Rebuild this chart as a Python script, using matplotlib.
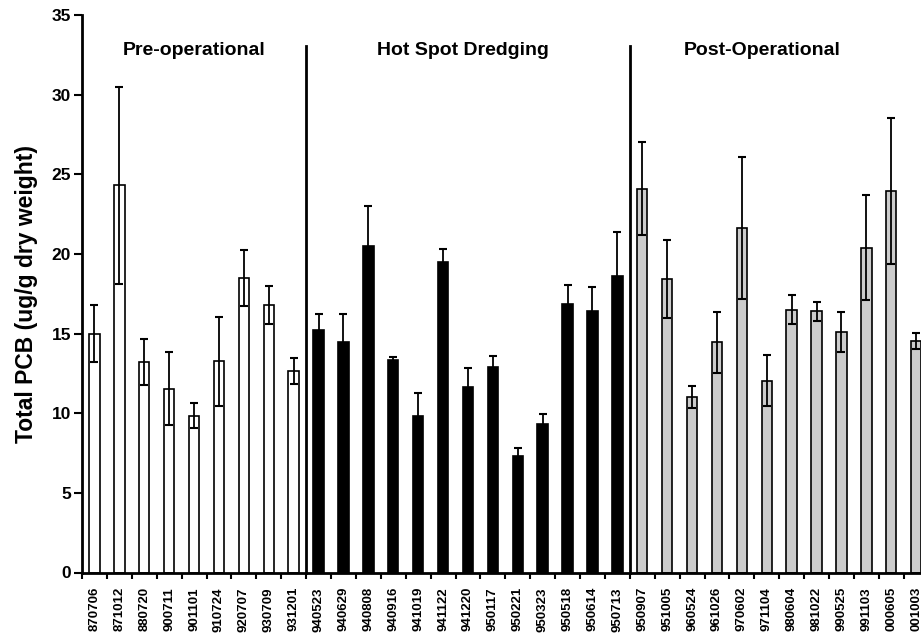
import matplotlib
matplotlib.use("Agg")
import matplotlib.pyplot as plt
import numpy as np

plt.rcParams['font.family'] = ['Liberation Sans', 'DejaVu Sans']

pre_labels = ["870706", "871012", "880720", "900711", "901101", "910724", "920707", "930709", "931201"]
pre_vals = [15.0, 24.3, 13.2, 11.55, 9.85, 13.25, 18.5, 16.8, 12.65]
pre_err = [1.8, 6.2, 1.45, 2.3, 0.8, 2.8, 1.75, 1.2, 0.8]

hot_labels = ["940523", "940629", "940808", "940916", "941019", "941122", "941220",
              "950117", "950221", "950323", "950518", "950614", "950713"]
hot_vals = [15.25, 14.5, 20.5, 13.35, 9.8, 19.5, 11.65, 12.9, 7.3, 9.35, 16.85, 16.4, 18.6]
hot_err = [0.95, 1.7, 2.5, 0.2, 1.45, 0.8, 1.2, 0.7, 0.5, 0.6, 1.2, 1.5, 2.75]

post_labels = ["950907", "951005", "960524", "961026", "970602", "971104", "980604",
               "981022", "990525", "991103", "000605", "001003"]
post_vals = [24.1, 18.4, 11.0, 14.45, 21.65, 12.05, 16.5, 16.4, 15.1, 20.4, 23.95, 14.55]
post_err = [2.9, 2.45, 0.7, 1.9, 4.45, 1.6, 0.9, 0.6, 1.25, 3.3, 4.6, 0.5]

group_names = ["Pre-operational", "Hot Spot Dredging", "Post-Operational"]

fig = plt.figure(figsize=(9.21, 6.34), dpi=100)
ax = fig.add_axes([82/921, 61.5/634, (34*24.9)/921, (572.5-15)/634])

groups = [(pre_labels, pre_vals, pre_err, 'white'),
          (hot_labels, hot_vals, hot_err, 'black'),
          (post_labels, post_vals, post_err, '#cccccc')]

all_labels = []
start = 0
bounds = []
for labels, vals, errs, color in groups:
    n = len(labels)
    x = np.arange(start, start + n) + 0.5
    ax.bar(x, vals, width=0.42, color=color, edgecolor='black', linewidth=1.2, zorder=2)
    ax.errorbar(x, vals, yerr=errs, fmt='none', ecolor='black', elinewidth=1.3,
                capsize=3, capthick=1.5, zorder=3)
    all_labels += labels
    start += n
    bounds.append(start)

total = len(all_labels)
ax.set_xlim(0, total)
ax.set_ylim(0, 35)

# separators
for b in bounds[:-1]:
    ax.plot([b, b], [0, 33.05], color='black', lw=2, zorder=4, clip_on=False)

# group titles
title_x = [4.5, 15.3, 27.3]
for name, tx in zip(group_names, title_x):
    ax.text(tx, 32.8, name, ha='center', va='center', fontsize=14, fontweight='bold')

ax.set_xticks(np.arange(0, total + 1))
ax.set_xticklabels([])
ax.set_xticks(np.arange(total) + 0.5, minor=True)
ax.set_xticklabels(all_labels, minor=True, rotation=90, fontsize=9.5, fontweight='bold',
                   va='top')
ax.tick_params(axis='x', which='major', direction='out', length=4, width=1.5)
ax.tick_params(axis='x', which='minor', length=0, pad=10.5)

ax.set_yticks(np.arange(0, 36, 5))
ax.set_yticklabels([str(v) for v in range(0, 36, 5)], fontsize=12.5, fontweight='bold')
ax.tick_params(axis='y', direction='out', length=6, width=1.5, pad=2)

ax.spines['top'].set_visible(False)
ax.spines['right'].set_visible(False)
ax.spines['left'].set_linewidth(2)
ax.spines['bottom'].set_linewidth(2)

ax.set_ylabel("Total PCB (ug/g dry weight)", fontsize=16.5, fontweight='bold', labelpad=10)

fig.savefig("out.png", dpi=100)
